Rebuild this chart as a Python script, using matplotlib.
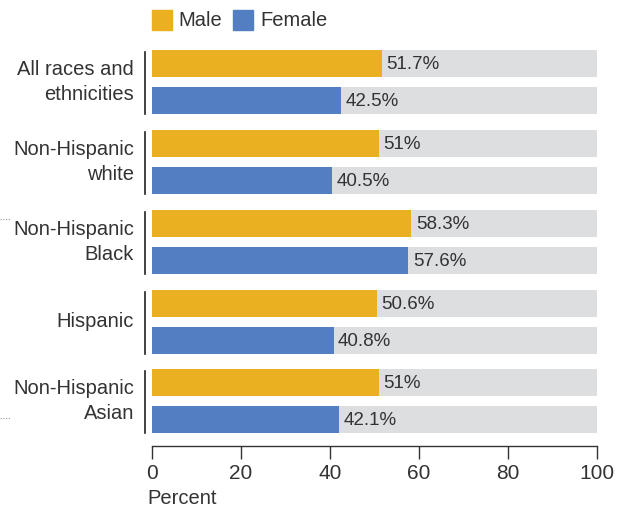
import matplotlib
matplotlib.use("Agg")
import matplotlib.pyplot as plt
from matplotlib.patches import Rectangle
from matplotlib.lines import Line2D

groups = ["All races and\nethnicities", "Non-Hispanic\nwhite", "Non-Hispanic\nBlack", "Hispanic", "Non-Hispanic\nAsian"]
male = [51.7, 51.0, 58.3, 50.6, 51.0]
female = [42.5, 40.5, 57.6, 40.8, 42.1]
male_labels = ["51.7%", "51%", "58.3%", "50.6%", "51%"]
female_labels = ["42.5%", "40.5%", "57.6%", "40.8%", "42.1%"]
ticks = [0, 20, 40, 60, 80, 100]

C_M = "#EBB021"
C_F = "#537EC1"
C_BG = "#DDDEE0"
TXT = "#333333"
FONT = "Liberation Sans"
plt.rcParams["font.family"] = [FONT, "DejaVu Sans"]

W, H = 627, 509
fig = plt.figure(figsize=(W / 100, H / 100), dpi=100)
x0, x1, ytop, ybot = 152, 597, 40, 446
ax = fig.add_axes([x0 / W, 1 - ybot / H, (x1 - x0) / W, (ybot - ytop) / H])
ax.set_xlim(0, 100)
ax.set_ylim(ybot, ytop)  # data y = pixel rows

bh = 27
for i in range(len(groups)):
    ym = 63.5 + 80 * i - (1 if i >= 4 else 0)
    yf = ym + 37
    for y, v, lab, c in [(ym, male[i], male_labels[i], C_M), (yf, female[i], female_labels[i], C_F)]:
        ax.barh(y, 100, height=bh, color=C_BG, left=0)
        ax.barh(y, v, height=bh, color=c)
        ax.text(v + 1.0, y + 1, lab, va="center", ha="left", fontsize=13.5, color=TXT)
    ax.plot([-1.6, -1.6], [ym - bh / 2 + 2, yf + bh / 2], color="#222222", lw=1.2, clip_on=False)
    ax.text(-4.0, (ym + yf) / 2, groups[i], ha="right", va="center", fontsize=14.5,
            color=TXT, linespacing=1.35)

ax.set_yticks([])
for s in ["top", "right", "left"]:
    ax.spines[s].set_visible(False)
ax.spines["bottom"].set_color("#333333")
ax.spines["bottom"].set_linewidth(1.0)
ax.set_xticks(ticks)
ax.set_xticklabels([str(t) for t in ticks])
ax.tick_params(axis="x", direction="out", length=9, width=1.0, colors="#333333",
               labelsize=15, labelcolor=TXT, pad=4)
ax.text(-1, ybot + 53, "Percent", ha="left", va="center", fontsize=14.5, color=TXT)

# small dotted marks at far left
for yy in [219, 418]:
    fig.lines.append(Line2D([0, 10 / W], [1 - yy / H, 1 - yy / H], transform=fig.transFigure,
                            color="#999999", lw=0.8, ls=(0, (1, 1.5)), figure=fig))

# legend
fig.patches.append(Rectangle((152 / W, 1 - 30 / H), 20 / W, 20 / H, transform=fig.transFigure,
                             color=C_M, figure=fig))
fig.text(178 / W, 1 - 20 / H, "Male", ha="left", va="center", fontsize=14.5, color=TXT)
fig.patches.append(Rectangle((233 / W, 1 - 30 / H), 20 / W, 20 / H, transform=fig.transFigure,
                             color=C_F, figure=fig))
fig.text(260 / W, 1 - 20 / H, "Female", ha="left", va="center", fontsize=14.5, color=TXT)

fig.savefig("out.png", dpi=100)
